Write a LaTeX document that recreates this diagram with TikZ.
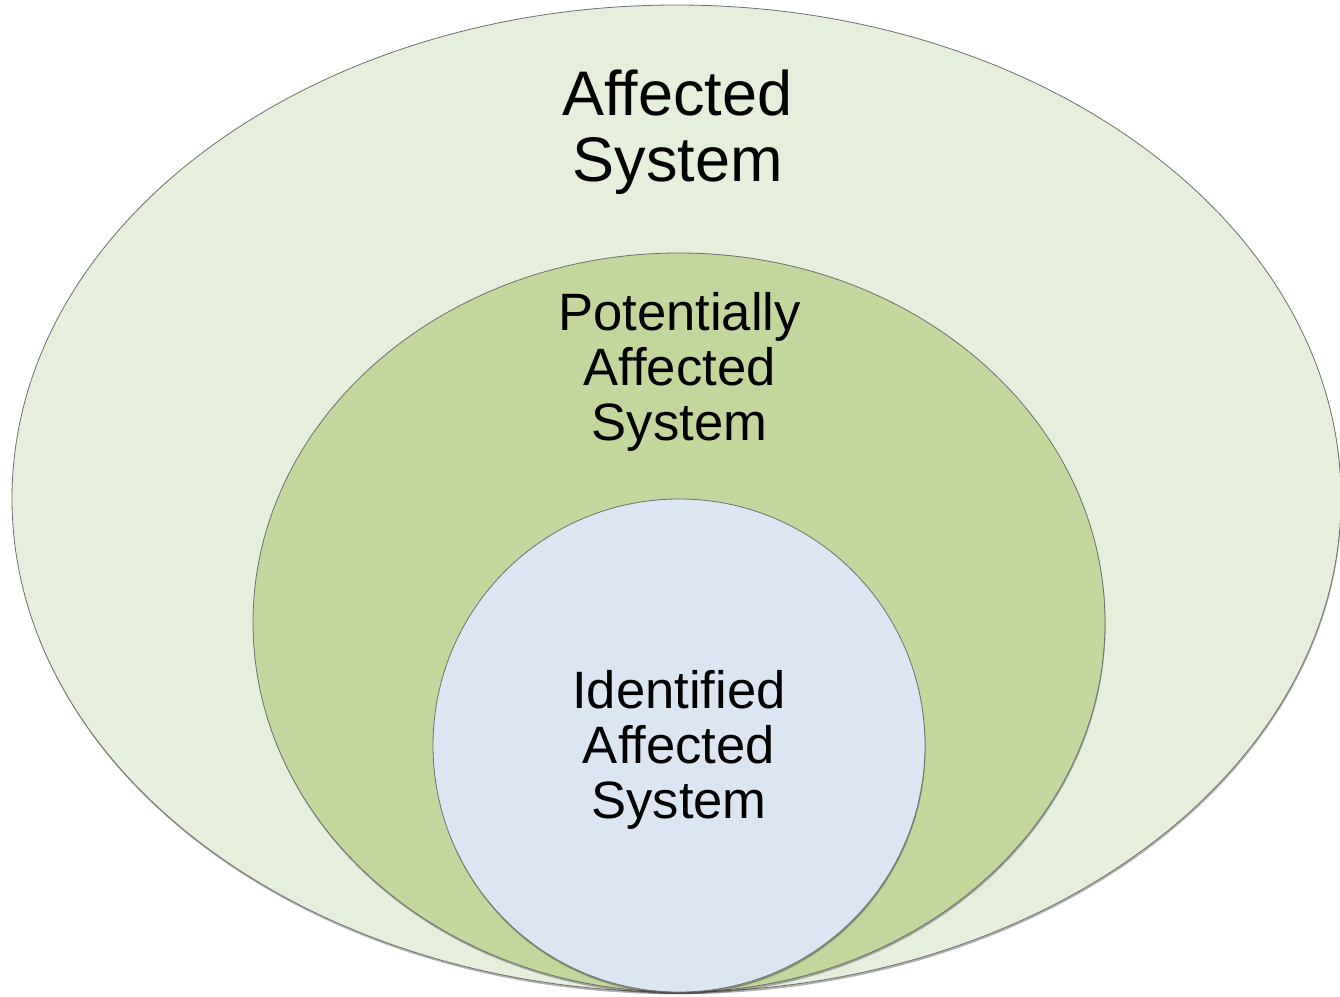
\documentclass[tikz,border=0pt]{standalone}
\usepackage{fontspec}
\setmainfont{Liberation Sans}[Ligatures=NoCommon]
\usetikzlibrary{shapes.geometric,shadows}
\definecolor{outerfill}{HTML}{E6EEDC}
\definecolor{midfill}{HTML}{C3D69B}
\definecolor{innerfill}{HTML}{DCE6F2}
\definecolor{rim}{HTML}{6F6F6F}
\tikzset{
  setshape/.style={ellipse, draw=rim, line width=0.8pt, inner sep=0pt, outer sep=0pt,
    drop shadow={shadow xshift=0.6pt, shadow yshift=-2.2pt, fill=black, opacity=0.3}},
  biglabel/.style={align=center, anchor=base, text=black, font=\fontsize{63}{66}\selectfont},
  smalllabel/.style={align=center, anchor=base, text=black, font=\fontsize{52.6}{55}\selectfont}
}
\begin{document}
\begin{tikzpicture}[x=1pt,y=-1pt]
\useasboundingbox (0,0) rectangle (1340,996);
\node[setshape, fill=outerfill, minimum width=1329pt, minimum height=987pt] (outer) at (676.5,498.5) {};
\node[setshape, fill=midfill, minimum width=852pt, minimum height=739pt] (middle) at (679,622.5) {};
\node[setshape, fill=innerfill, minimum width=492pt, minimum height=493pt] (inner) at (679,745.5) {};
\node[biglabel] (outerlabel) at (677.5,181) {Affected\\System};
\node[smalllabel] (middlelabel) at (679.5,440) {Potentially\\Affected\\System};
\node[smalllabel] (innerlabel) at (679,818) {Identified\\Affected\\System};
\end{tikzpicture}
\end{document}
